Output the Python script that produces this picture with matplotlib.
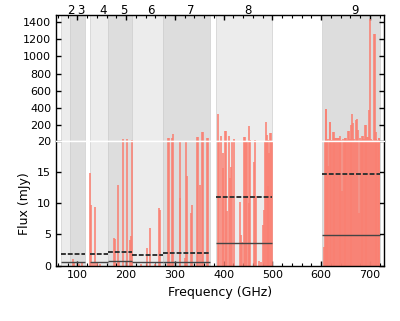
import matplotlib
matplotlib.use("Agg")
import matplotlib.pyplot as plt
from matplotlib.ticker import MultipleLocator

# ---------------- data ----------------
band_names = ["2", "3", "4", "5", "6", "7", "8", "9"]
band_lo = [67, 84, 125, 163, 211, 275, 385, 602]
band_hi = [84, 116, 163, 211, 275, 373, 500, 720]
band_shade = ["#ececec", "#dddddd", "#ececec", "#dddddd", "#ececec", "#dddddd", "#ececec", "#dddddd"]
band_center = [78.5, 100, 144, 187, 243, 324, 442.5, 661]

# sensitivity levels per observed segment (mJy)
seg_lo = [67, 125, 163, 211, 275, 385, 602]
seg_hi = [116, 163, 211, 275, 373, 500, 720]
seg_dashed = [1.8, 1.8, 2.13, 1.75, 2.1, 11.06, 14.65]
seg_solid = [0.53, 0.53, 0.7, 0.5, 0.65, 3.68, 4.86]

# spectral lines: frequency (GHz) and flux (mJy)
line_freq = [90, 93, 104, 110,
             125.5, 127, 131, 135.7, 140, 146,
             175.4, 176.6, 183, 185, 192.5, 201.4, 207.6, 209, 211.7,
             230, 242.5, 249.3, 260, 267.8, 268.6,
             285.6, 287.2, 289.5, 294, 296, 309.5, 311, 319.8, 322.5, 324.5, 332, 335.5,
             345.5, 348, 352, 356, 358.5, 365.7, 368.5,
             387.5, 390, 395, 397.8, 399.5, 403, 404.5, 406.8, 411.5, 413.5, 415.6,
             417.5, 420.3, 434, 435.5, 438.5,
             441.5, 443.5, 446.4, 448.5, 451, 453, 454.6, 462, 463.4, 467,
             473, 476.5, 480, 483, 485.4,
             487, 489, 490.5, 492, 494, 495.6, 497.5, 499,
             605, 607, 609, 610.5, 612, 613.5, 615, 617.5, 618.8, 620.5, 622, 624.5, 625.8,
             627, 628.5, 630, 632, 634, 636, 638, 639.4, 641, 643, 645, 647, 648.5, 650,
             652, 653.5, 655, 657, 659, 660.5, 662, 664, 666, 668, 669.5, 671, 674, 676,
             677.5, 679.5, 681, 683, 684.5, 686, 688, 689.5, 691.5, 693, 694.5, 696,
             697.5, 700.5, 703, 705, 707, 709, 710.5, 712, 713.5, 715, 716.5, 718, 719.5]
line_flux = [1.0, 0.5, 0.3, 0.4,
             14.8, 9.7, 0.6, 9.45, 0.4, 0.3,
             4.4, 4.2, 13.0, 0.5, 40, 47, 4.1, 4.8, 32,
             0.3, 2.9, 6.1, 0.3, 9.2, 9.0,
             55, 55, 0.5, 60, 102, 10.8, 22, 1.2, 24, 14.4, 8.4, 9.7,
             67, 67, 13.0, 125, 125, 52, 52,
             336, 25, 79, 15.6, 18, 137, 137, 8.7, 79, 14, 15.9,
             22, 43, 10.2, 4.9, 3.8,
             70, 70, 22, 25, 10, 196, 30, 16.7, 32, 11.1,
             0.7, 0.6, 6.5, 9, 22,
             246, 88, 30, 12.7, 18, 110, 110, 25,
             3.0, 24, 395, 395, 30, 16, 40, 246, 246, 30, 28, 122, 122,
             26, 59, 59, 59, 52, 52, 30, 74, 35, 12, 40, 22, 52, 59,
             59, 28, 137, 137, 45, 30, 207, 333, 227, 40, 22, 266, 274, 150,
             8.4, 59, 30, 26, 79, 79, 40, 207, 207, 30, 72, 72,
             383, 1430, 40, 30, 25, 1260, 1260, 40, 130, 30, 24, 59, 59]

xmin, xmax = 56, 729
bot_ylim = (0, 20)
top_ylim = (20, 1480)
bot_yticks = [0, 5, 10, 15, 20]
top_yticks = [200, 400, 600, 800, 1000, 1200, 1400]
xticks = [100, 200, 300, 400, 500, 600, 700]

# ---------------- figure ----------------
fig = plt.figure(figsize=(4.0, 3.21), dpi=100)
ax_top = fig.add_axes([0.14, 0.5607, 0.82, 0.3926])
ax_bot = fig.add_axes([0.14, 0.1726, 0.82, 0.3881])

line_color = "#fa8072"
for ax in (ax_top, ax_bot):
    for lo, hi, c in zip(band_lo, band_hi, band_shade):
        ax.axvspan(lo, hi, facecolor=c, edgecolor="#cfcfcf", lw=0.5, zorder=0)
    ax.vlines(line_freq, 0, line_flux, color=line_color, lw=1.2, alpha=0.95, zorder=2)
    ax.set_xlim(xmin, xmax)
    for s in ax.spines.values():
        s.set_linewidth(1.0)
    ax.tick_params(direction="in", which="both", top=True, right=True,
                   length=3.5, width=1.0, labelsize=8)
    ax.tick_params(which="minor", length=2, width=0.8)

for lo, hi, d, s in zip(seg_lo, seg_hi, seg_dashed, seg_solid):
    ax_bot.hlines(d, lo, hi, color="#333333", lw=1.4, linestyles=(0, (2.5, 1.0)), zorder=3)
    ax_bot.hlines(s, lo, hi, color="#444444", lw=1.0, zorder=3)

ax_bot.set_ylim(*bot_ylim)
ax_bot.set_yticks(bot_yticks)
ax_bot.set_xticks(xticks)
ax_bot.xaxis.set_minor_locator(MultipleLocator(20))
ax_bot.tick_params(axis="x", top=False, which="both")
ax_bot.spines["top"].set_color("white")
ax_bot.set_xlabel("Frequency (GHz)", fontsize=9)
ax_bot.set_ylabel("Flux (mJy)", fontsize=9)

ax_top.set_ylim(*top_ylim)
ax_top.set_yticks(top_yticks)
ax_top.set_xticks(xticks)
ax_top.xaxis.set_minor_locator(MultipleLocator(20))
ax_top.tick_params(axis="x", bottom=False, labelbottom=False, which="both")
ax_top.spines["bottom"].set_color("white")

for name, c in zip(band_names, band_center):
    ax_top.text(c, 1.008, name, transform=ax_top.get_xaxis_transform(),
                ha="left", va="baseline", fontsize=8.5)

fig.savefig("out.png", dpi=100)
